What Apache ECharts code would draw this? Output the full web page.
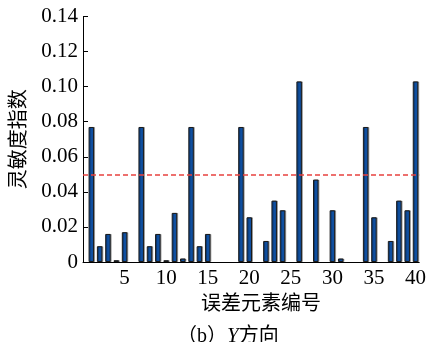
<!DOCTYPE html>
<html>
<head>
<meta charset="utf-8">
<script src="https://cdn.jsdelivr.net/npm/echarts@6/dist/echarts.min.js"></script>
<style>html,body{margin:0;padding:0;background:#fff}#c{width:429px;height:342px}</style>
</head>
<body>
<div id="c"></div>
<script>
var elementIds = [1,2,3,4,5,6,7,8,9,10,11,12,13,14,15,16,17,18,19,20,21,22,23,24,25,26,27,28,29,30,31,32,33,34,35,36,37,38,39,40];
var sensitivity = [0.077,0.009,0.016,0.001,0.017,0,
  0.077,0.009,0.016,0.001,0.028,0.002,
  0.077,0.009,0.016,0,0,0,
  0.077,0.0255,0,0.012,0.035,0.0295,0,
  0.103,0,0.047,0,0.0295,0.002,0,0,
  0.077,0.0255,0,0.012,0.035,0.0295,0.103];
var threshold = 0.05;

var FONT = 'Liberation Serif, Times New Roman, Noto Sans CJK SC, serif';
var chart = echarts.init(document.getElementById('c'), null, {renderer:'canvas'});
var data = elementIds.map(function(id,i){
  var v = sensitivity[i];
  return v === 0 ? {value:[id,v], itemStyle:{borderWidth:0, shadowOffsetX:0}} : {value:[id,v]};
});
chart.setOption({
  animation:false,
  backgroundColor:'#fff',
  textStyle:{fontFamily:FONT,color:'#000'},
  title:{
    text:'（b）{i|Y}方向',
    left:172, top:321,
    textStyle:{fontFamily:FONT,fontSize:20,fontWeight:'normal',color:'#000',
      rich:{i:{fontFamily:FONT,fontSize:21,fontStyle:'italic',color:'#000'}}}
  },
  grid:{left:83,right:7,top:16.5,bottom:80,containLabel:false},
  xAxis:{
    type:'value',min:0,max:40.45,interval:5,
    axisLine:{show:true,lineStyle:{color:'#000',width:1}},
    axisTick:{show:false},
    splitLine:{show:false},
    axisLabel:{color:'#000',fontFamily:FONT,fontSize:21,margin:6,
      formatter:function(v){return (v>0 && v%5===0)?String(v):'';}},
    name:'误差元素编号',nameLocation:'middle',nameGap:33,
    nameTextStyle:{color:'#000',fontFamily:FONT,fontSize:20,padding:[0,0,0,20]}
  },
  yAxis:{
    type:'value',min:0,max:0.14,interval:0.02,
    axisLine:{show:true,lineStyle:{color:'#000',width:1}},
    axisTick:{show:true,inside:true,length:5,lineStyle:{color:'#000'}},
    splitLine:{show:false},
    axisLabel:{color:'#000',fontFamily:FONT,fontSize:21,margin:5,
      formatter:function(v){return v===0?'0':v.toFixed(2);}},
    name:'灵敏度指数',nameLocation:'middle',nameGap:53,nameRotate:90,
    nameTextStyle:{color:'#000',fontFamily:FONT,fontSize:20}
  },
  series:[{
    type:'bar',
    data:data,
    barWidth:5.5,
    itemStyle:{color:'#0f4fa0',borderColor:'#1a1a1a',borderWidth:1,
      shadowColor:'rgba(0,0,0,0.3)',shadowOffsetX:1,shadowOffsetY:0,shadowBlur:0},
    markLine:{
      silent:true,symbol:['none','none'],
      label:{show:false},
      lineStyle:{color:'#e8413f',type:[5,3],width:1.5},
      data:[{yAxis:threshold}]
    }
  }]
});
</script>
</body>
</html>
